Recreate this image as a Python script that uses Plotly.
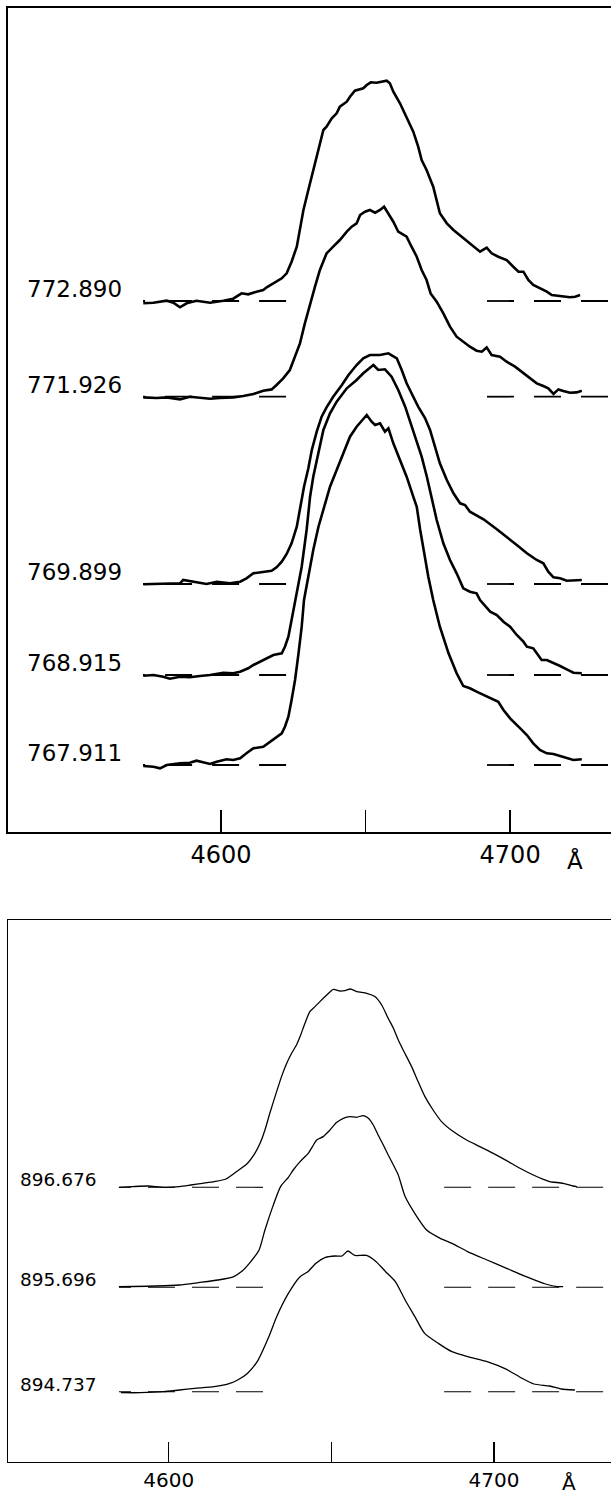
import plotly.graph_objects as go

# ---------------- data: upper panel (Å, intensity above continuum) ----------------
top_labels = ["772.890", "771.926", "769.899", "768.915", "767.911"]
top_offsets = [531, 435.3, 248, 157, 67]

wl_772890 = [4573.1, 4576.6, 4581.2, 4583.5, 4585.8, 4588.1, 4591.5, 4596.2, 4600.8, 4604.2,
             4607.1, 4609.4, 4612.3, 4614.6, 4615.8, 4618.1, 4621.0, 4622.7, 4624.4, 4626.2,
             4627.9, 4628.5, 4630.2, 4631.9, 4633.6, 4635.4, 4636.5, 4638.3, 4640.0, 4641.1,
             4643.5, 4644.6, 4646.3, 4648.1, 4649.2, 4650.4, 4651.8, 4653.8, 4655.6, 4657.3,
             4658.4, 4659.6, 4661.9, 4664.2, 4666.5, 4668.2, 4669.4, 4671.1, 4673.4, 4675.7,
             4678.1, 4680.4, 4683.8, 4687.3, 4689.6, 4691.9, 4693.6, 4695.9, 4698.8, 4701.1,
             4702.9, 4704.6, 4706.3, 4708.0, 4710.3, 4712.7, 4714.4, 4716.1, 4718.4, 4720.7,
             4722.5, 4724.2]
int_772890 = [-2.3, -1.7, 0.3, -1.7, -6.3, -2.3, 0.3, -1.7, 0.3, 2.3,
              7.7, 6.7, 9.3, 11, 13.7, 17.7, 22.7, 27.7, 39.3, 54.3,
              81, 91, 111, 131, 151, 171, 174.3, 182.7, 187.7, 194.3,
              199.3, 204.3, 210.3, 211.7, 212.7, 216, 218.7, 218.3, 219.3, 220.3,
              217.7, 209.3, 197.7, 184.3, 169.3, 154.3, 141, 131, 114.3, 87.7,
              77.7, 71, 62.7, 54.3, 49.3, 53.3, 47.7, 44.3, 41, 34.3,
              29.3, 29.3, 21, 16, 12.7, 9.3, 6, 5.3, 4.3, 3.7,
              4.3, 6]

wl_771926 = [4573.1, 4577.7, 4581.2, 4585.8, 4589.2, 4592.7, 4596.2, 4599.6, 4604.2, 4607.7,
             4611.2, 4614.6, 4617.5, 4619.2, 4621.5, 4623.8, 4625.6, 4627.3, 4629.0, 4630.8,
             4632.5, 4634.2, 4636.5, 4638.8, 4641.1, 4643.5, 4645.2, 4646.9, 4648.1, 4649.8,
             4651.5, 4653.3, 4655.0, 4656.4, 4657.9, 4659.6, 4661.3, 4663.1, 4664.2, 4665.9,
             4667.7, 4669.4, 4671.1, 4672.5, 4674.6, 4676.9, 4679.2, 4681.5, 4683.8, 4686.1,
             4688.4, 4690.2, 4691.9, 4693.6, 4696.5, 4698.8, 4701.7, 4704.0, 4706.9, 4709.2,
             4711.5, 4713.2, 4715.0, 4716.7, 4718.4, 4720.7, 4723.0, 4724.8]
int_771926 = [-0.7, -1.3, -0.7, -2.7, 0, -0.7, -2, -1.3, -0.7, 0.7,
              2.7, 6, 7.3, 11.7, 18.3, 26.7, 40, 53.3, 73.3, 93.3,
              110, 126.7, 143.3, 150, 156.7, 165, 170, 173.3, 181.7, 185,
              186.7, 184, 186.7, 190, 183.3, 175, 165, 161.7, 160, 150,
              140, 126.7, 116.7, 103.3, 95, 83.3, 70, 60, 55, 50,
              46, 45, 49.3, 41.7, 40, 35, 30, 25, 18.3, 13.3,
              10.7, 8.3, 2.7, 7.3, 5.7, 4, 4.3, 6]

wl_769899 = [4573.1, 4581.2, 4585.8, 4586.9, 4590.4, 4595.0, 4598.5, 4603.1, 4606.6, 4608.8,
             4611.2, 4614.6, 4617.5, 4619.2, 4621.0, 4622.7, 4624.4, 4626.2, 4627.3, 4628.7,
             4630.2, 4631.4, 4633.1, 4634.8, 4636.5, 4638.8, 4641.8, 4644.1, 4646.9, 4649.2,
             4651.5, 4655.0, 4657.9, 4660.8, 4662.5, 4664.2, 4665.9, 4668.2, 4670.6, 4672.3,
             4674.0, 4675.7, 4678.1, 4680.4, 4682.7, 4684.4, 4686.1, 4690.8, 4695.4, 4698.8,
             4702.3, 4705.8, 4709.2, 4711.5, 4713.2, 4715.0, 4717.3, 4719.6, 4721.9, 4724.8]
int_769899 = [-0.3, 0, 0.7, 4, 2.3, 0, 2.3, 0.7, 2.3, 5.7,
              10.7, 12.3, 13.3, 16.7, 22.3, 30, 40.7, 57.3, 74, 97.3,
              115.7, 134, 152.3, 167.3, 176.7, 187.3, 199, 209, 219, 225.7,
              229, 229, 230.7, 225.7, 214, 200.7, 190.7, 177.3, 165.7, 154,
              137.3, 120.7, 104, 90.7, 80.7, 79, 72.3, 64.7, 54.7, 47.3,
              39, 30.7, 24, 20.7, 12.3, 6.7, 5.7, 3.3, 3.3, 4]

wl_768915 = [4573.1, 4576.6, 4580.0, 4582.3, 4585.8, 4589.2, 4592.7, 4596.2, 4600.8, 4604.2,
             4606.6, 4609.4, 4611.2, 4613.5, 4615.8, 4618.1, 4621.0, 4622.1, 4623.3, 4624.4,
             4625.6, 4626.8, 4627.9, 4629.6, 4630.8, 4631.9, 4633.7, 4635.4, 4637.7, 4640.0,
             4643.5, 4646.9, 4649.2, 4651.5, 4652.7, 4654.4, 4656.7, 4659.0, 4661.3, 4663.7,
             4665.9, 4667.7, 4669.4, 4671.2, 4672.9, 4674.6, 4676.9, 4679.2, 4681.5, 4683.8,
             4686.1, 4688.4, 4689.6, 4693.1, 4695.4, 4697.7, 4700.0, 4702.3, 4704.6, 4705.8,
             4708.0, 4709.2, 4710.9, 4712.7, 4715.0, 4717.3, 4719.6, 4721.9, 4724.8]
int_768915 = [-0.7, 0, -1.7, -3.7, -1.7, -2.3, -1, 0, 2.3, 1.7,
              3.3, 6.7, 10, 13.3, 16.7, 20, 21.7, 28.3, 38.3, 55,
              71.7, 91.7, 108.3, 145, 178.3, 198.3, 221.7, 245, 261.7, 273.3,
              286.7, 295, 301.7, 307.7, 310, 305, 305.7, 298.3, 285, 268.3,
              248.3, 231.7, 218.3, 198.3, 175, 155, 131.7, 115, 101.7, 86.7,
              83.3, 81.7, 75, 63.3, 60, 53.3, 48.3, 40, 33.3, 28.3,
              26.7, 21.7, 15, 15, 12.3, 9, 5.7, 2.3, 1.7]

wl_767911 = [4573.1, 4576.6, 4578.9, 4581.2, 4585.8, 4589.2, 4591.5, 4593.9, 4596.2, 4598.5,
             4601.9, 4604.2, 4606.6, 4608.8, 4611.2, 4614.6, 4616.9, 4619.2, 4621.0, 4622.1,
             4623.3, 4624.4, 4625.6, 4626.8, 4627.9, 4628.7, 4630.2, 4631.9, 4633.7, 4635.6,
             4637.7, 4640.0, 4642.3, 4644.6, 4646.9, 4649.2, 4650.4, 4652.1, 4653.3, 4655.0,
             4656.7, 4657.9, 4659.6, 4661.9, 4664.2, 4666.5, 4667.7, 4668.9, 4670.0, 4671.7,
             4673.4, 4675.7, 4678.7, 4681.5, 4683.8, 4686.1, 4688.4, 4690.8, 4693.6, 4695.9,
             4697.7, 4700.0, 4703.5, 4705.8, 4708.0, 4710.3, 4712.7, 4715.0, 4717.3, 4719.6,
             4721.9, 4724.8]
int_767911 = [-1, -1.7, -3.3, 0, 1.7, 2.3, 4.3, 2.3, 1, 3.3,
              5.7, 5, 6.7, 11.7, 16.7, 18.3, 23.3, 28.3, 31.7, 38.3,
              48.3, 65, 85, 111.7, 138.3, 165, 188.3, 215, 238.3, 258.3,
              278.3, 295, 311.7, 328.3, 338.3, 346.7, 350, 343.3, 340, 341.7,
              333.3, 336.7, 321.7, 305, 288.3, 268.3, 258.3, 235, 215, 188.3,
              165, 138.3, 111.7, 91.7, 79, 76.7, 73.3, 70, 66.7, 63.3,
              55, 46.7, 36.7, 30, 21.7, 15, 11.7, 11, 9, 6.7,
              5, 5.7]

top_wl = [wl_772890, wl_771926, wl_769899, wl_768915, wl_767911]
top_int = [int_772890, int_771926, int_769899, int_768915, int_767911]
# continuum segments (left one listed right-to-left so the dash pattern starts at its inner end)
top_cont_left = [4622.5, 4573.0]
top_cont_right = [4692.0, 4740.0]

# ---------------- data: lower panel ----------------
bot_labels = ["896.676", "895.696", "894.737"]
bot_offsets = [274.2, 174.2, 69.8]

wl_896676 = [4584.7, 4588.9, 4593.7, 4598.5, 4603.3, 4606.8, 4610.4, 4614.0, 4617.6, 4621.0,
             4624.0, 4626.5, 4628.1, 4629.6, 4631.1, 4632.7, 4634.7, 4636.3, 4637.8, 4639.3,
             4640.4, 4641.9, 4643.4, 4645.0, 4646.5, 4648.6, 4650.6, 4652.7, 4654.2, 4655.9,
             4657.8, 4660.9, 4663.4, 4665.5, 4667.5, 4669.1, 4670.6, 4672.1, 4674.7, 4676.7,
             4678.8, 4681.3, 4683.9, 4687.5, 4691.6, 4695.7, 4699.8, 4703.9, 4708.0, 4712.1,
             4715.2, 4717.1, 4721.3, 4724.3, 4725.5]
int_896676 = [0, 0.7, 1.3, 0, 0.7, 2.3, 4, 5.7, 8.3, 16,
              23.3, 34, 44, 57.3, 74, 90.7, 110.7, 124, 134, 142.3,
              150.7, 164, 175.7, 180.7, 185.7, 192.3, 198, 196.3, 196.7, 198.3,
              195.7, 194, 190.7, 182.3, 169, 159, 147.3, 137.3, 120.7, 105.7,
              90.7, 77.3, 65.7, 55.7, 47.3, 40.7, 34, 26.7, 19, 12.3,
              8, 5.7, 4, 1.3, 0.7]

wl_895696 = [4584.7, 4596.1, 4603.3, 4609.2, 4615.2, 4620.0, 4622.4, 4624.8, 4627.8, 4629.6,
             4632.0, 4634.4, 4636.8, 4638.3, 4640.4, 4642.9, 4644.5, 4645.5, 4647.5, 4649.6,
             4651.6, 4653.7, 4655.7, 4657.8, 4659.8, 4661.4, 4662.9, 4664.4, 4666.0, 4667.5,
             4669.1, 4670.6, 4672.7, 4676.3, 4679.3, 4683.5, 4687.1, 4691.9, 4697.9, 4703.9,
             4709.9, 4715.9, 4719.5, 4721.3]
int_895696 = [0.7, 1.3, 2.3, 4.7, 7.3, 10.7, 15.7, 24, 37.3, 57.3,
              80.7, 100.7, 110, 117.3, 125.7, 134, 142.3, 147.3, 150.7, 157.3,
              164.7, 169, 170.7, 170, 171.7, 169, 162.3, 152.3, 142.3, 132.3,
              122.3, 112.3, 90.7, 70.7, 57.3, 49, 44, 35.7, 27.3, 19,
              10.7, 3.3, 0.7, 0.7]

wl_894737 = [4585.3, 4591.3, 4598.5, 4603.3, 4608.0, 4614.0, 4618.8, 4621.2, 4624.2, 4627.2,
             4630.8, 4633.2, 4636.8, 4640.4, 4642.8, 4645.2, 4648.2, 4651.2, 4653.3, 4655.1,
             4657.2, 4660.8, 4663.8, 4666.7, 4669.7, 4672.7, 4675.7, 4678.7, 4682.9, 4687.1,
             4691.9, 4697.9, 4703.9, 4708.7, 4712.3, 4717.1, 4720.7, 4724.9]
int_894737 = [-1, -1, 0, 1.7, 3.3, 5, 8.3, 11.7, 18.3, 30,
              55, 75, 98.3, 115, 120, 128.3, 134.3, 135.7, 135.7, 140.7,
              136.3, 136.3, 130, 120, 110, 91.7, 75, 58.3, 48.3, 40,
              35, 30, 22.3, 13.3, 7.7, 5.7, 2.7, 1.7]

bot_wl = [wl_896676, wl_895696, wl_894737]
bot_int = [int_896676, int_895696, int_894737]
bot_cont_left = [4629.0, 4584.7]
bot_cont_right = [4684.7, 4740.0]

tick_vals = [4600, 4650, 4700]
tick_text = ["4600", "", "4700"]

# ---------------- layout helpers (pixel -> paper) ----------------
W, H = 611, 1496
def px_x(p):
    return p / W
def px_y(p):
    return 1 - p / H

FONT = "DejaVu Sans"
fig = go.Figure()

# upper panel
for wl, inten, off in zip(top_wl, top_int, top_offsets):
    for seg in (top_cont_left, top_cont_right):
        fig.add_trace(go.Scatter(x=seg, y=[off, off], mode="lines",
                                 line=dict(color="black", width=1.8, dash="27px,20px"),
                                 xaxis="x", yaxis="y", hoverinfo="skip"))
    fig.add_trace(go.Scatter(x=wl, y=[off + v for v in inten], mode="lines",
                             line=dict(color="black", width=2.6),
                             xaxis="x", yaxis="y"))

# lower panel
for wl, inten, off in zip(bot_wl, bot_int, bot_offsets):
    for seg in (bot_cont_left, bot_cont_right):
        fig.add_trace(go.Scatter(x=seg, y=[off, off], mode="lines",
                                 line=dict(color="black", width=1.1, dash="27px,17px"),
                                 xaxis="x2", yaxis="y2", hoverinfo="skip"))
    fig.add_trace(go.Scatter(x=wl, y=[off + v for v in inten], mode="lines",
                             line=dict(color="black", width=1.3, shape="spline", smoothing=0.6),
                             xaxis="x2", yaxis="y2"))

annotations = []
for lab, off in zip(top_labels, top_offsets):
    annotations.append(dict(x=4566.4, y=off, xref="x", yref="y", text=lab,
                            showarrow=False, xanchor="right", yanchor="bottom", yshift=-3,
                            font=dict(family=FONT, size=23, color="black")))
for lab, off in zip(bot_labels, bot_offsets):
    annotations.append(dict(x=4578.6, y=off, xref="x2", yref="y2", text=lab,
                            showarrow=False, xanchor="right", yanchor="bottom", yshift=-5,
                            font=dict(family=FONT, size=18.5, color="black")))
annotations.append(dict(x=px_x(575), y=px_y(860), xref="paper", yref="paper", text="Å",
                        showarrow=False, xanchor="center", yanchor="middle",
                        font=dict(family=FONT, size=23, color="black")))
annotations.append(dict(x=px_x(569), y=px_y(1483), xref="paper", yref="paper", text="Å",
                        showarrow=False, xanchor="center", yanchor="middle",
                        font=dict(family=FONT, size=20, color="black")))

fig.update_layout(
    width=W, height=H,
    margin=dict(l=0, r=0, t=0, b=0),
    paper_bgcolor="white", plot_bgcolor="white",
    showlegend=False,
    hovermode=False,
    annotations=annotations,
    xaxis=dict(domain=[px_x(8), 1], range=[4526.3, 4734.9], tickvals=tick_vals, ticktext=tick_text,
               ticks="inside", ticklen=22, tickwidth=1.6, tickcolor="black",
               showline=True, linewidth=2, linecolor="black", mirror=True,
               showgrid=False, zeroline=False, anchor="y",
               tickfont=dict(family=FONT, size=24, color="black")),
    yaxis=dict(domain=[px_y(832), px_y(8)], range=[0, 824], showline=True, linewidth=2,
               linecolor="black", showticklabels=False, ticks="", showgrid=False,
               zeroline=False, anchor="x"),
    xaxis2=dict(domain=[px_x(8), 1], range=[4550.6, 4736.0], tickvals=tick_vals, ticktext=tick_text,
                ticks="inside", ticklen=20, tickwidth=1.2, tickcolor="black",
                showline=True, linewidth=1.5, linecolor="black", mirror=True,
                showgrid=False, zeroline=False, anchor="y2",
                tickfont=dict(family=FONT, size=20, color="black")),
    yaxis2=dict(domain=[px_y(1461.5), px_y(920)], range=[0, 541.5], showline=True, linewidth=1.5,
                linecolor="black", showticklabels=False, ticks="", showgrid=False,
                zeroline=False, anchor="x2"),
)

fig.write_html("out.html", config={"displayModeBar": False, "staticPlot": True},
               post_script="document.body.style.margin='0';document.body.style.overflow='hidden';")
